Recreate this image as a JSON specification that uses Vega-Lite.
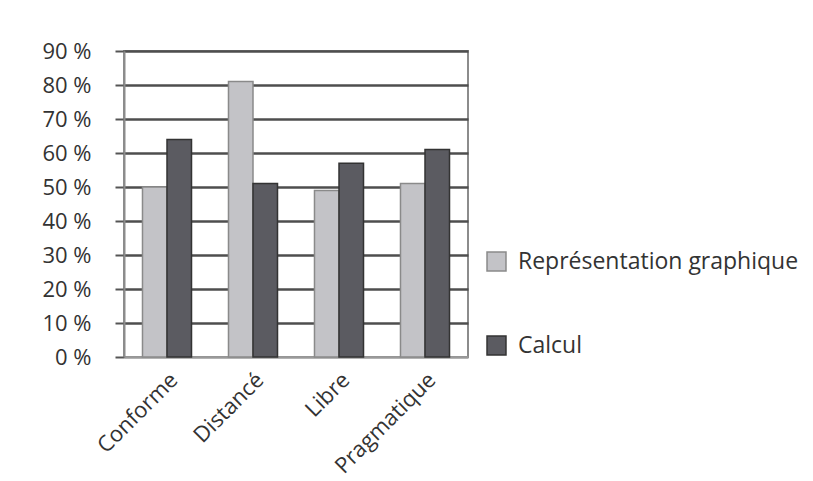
{
  "$schema": "https://vega.github.io/schema/vega-lite/v6.json",
  "width": 344,
  "height": 306,
  "autosize": "none",
  "padding": {"left": 124, "top": 51, "right": 345, "bottom": 124},
  "background": "white",
  "config": {
    "font": "Open Sans",
    "view": {"stroke": "#8c8c8c", "strokeWidth": 2}
  },
  "data": {
    "values": [
      {"profil": "Conforme", "serie": "Représentation graphique", "valeur": 50},
      {"profil": "Conforme", "serie": "Calcul", "valeur": 64},
      {"profil": "Distancé", "serie": "Représentation graphique", "valeur": 81},
      {"profil": "Distancé", "serie": "Calcul", "valeur": 51},
      {"profil": "Libre", "serie": "Représentation graphique", "valeur": 49},
      {"profil": "Libre", "serie": "Calcul", "valeur": 57},
      {"profil": "Pragmatique", "serie": "Représentation graphique", "valeur": 51},
      {"profil": "Pragmatique", "serie": "Calcul", "valeur": 61}
    ]
  },
  "mark": {"type": "bar", "strokeWidth": 1.5},
  "encoding": {
    "x": {
      "field": "profil",
      "type": "nominal",
      "sort": ["Conforme", "Distancé", "Libre", "Pragmatique"],
      "scale": {"paddingInner": 0.43, "paddingOuter": 0.215},
      "axis": {
        "title": null,
        "labelAngle": -45,
        "labelFontSize": 22,
        "labelColor": "#333333",
        "labelPadding": 12,
        "ticks": false,
        "domain": false
      }
    },
    "xOffset": {
      "field": "serie",
      "type": "nominal",
      "sort": ["Représentation graphique", "Calcul"]
    },
    "y": {
      "field": "valeur",
      "type": "quantitative",
      "scale": {"domain": [0, 90], "nice": false},
      "axis": {
        "title": null,
        "values": [0, 10, 20, 30, 40, 50, 60, 70, 80, 90],
        "labelExpr": "datum.value + ' %'",
        "labelFontSize": 22,
        "labelColor": "#333333",
        "labelPadding": 24,
        "tickSize": 9,
        "tickColor": "#555555",
        "tickWidth": 2,
        "domainColor": "#8c8c8c",
        "domainWidth": 2,
        "gridColor": {"condition": {"test": "datum.value === 0", "value": "#9a9a9a"}, "value": "#4e4e4e"},
        "gridWidth": 2.5,
        "gridOpacity": 1
      }
    },
    "color": {
      "field": "serie",
      "type": "nominal",
      "sort": ["Représentation graphique", "Calcul"],
      "scale": {"domain": ["Représentation graphique", "Calcul"], "range": ["#c3c3c7", "#5b5b61"]},
      "legend": {
        "title": null,
        "orient": "none",
        "legendX": 361,
        "legendY": 199,
        "symbolType": "square",
        "symbolSize": 360,
        "symbolStrokeWidth": 1.5,
        "labelFontSize": 23,
        "labelLimit": 400,
        "labelColor": "#333333",
        "rowPadding": 59,
        "labelOffset": 10
      }
    },
    "stroke": {
      "field": "serie",
      "type": "nominal",
      "sort": ["Représentation graphique", "Calcul"],
      "scale": {"domain": ["Représentation graphique", "Calcul"], "range": ["#8a8a8a", "#333333"]},
      "legend": null
    }
  }
}
